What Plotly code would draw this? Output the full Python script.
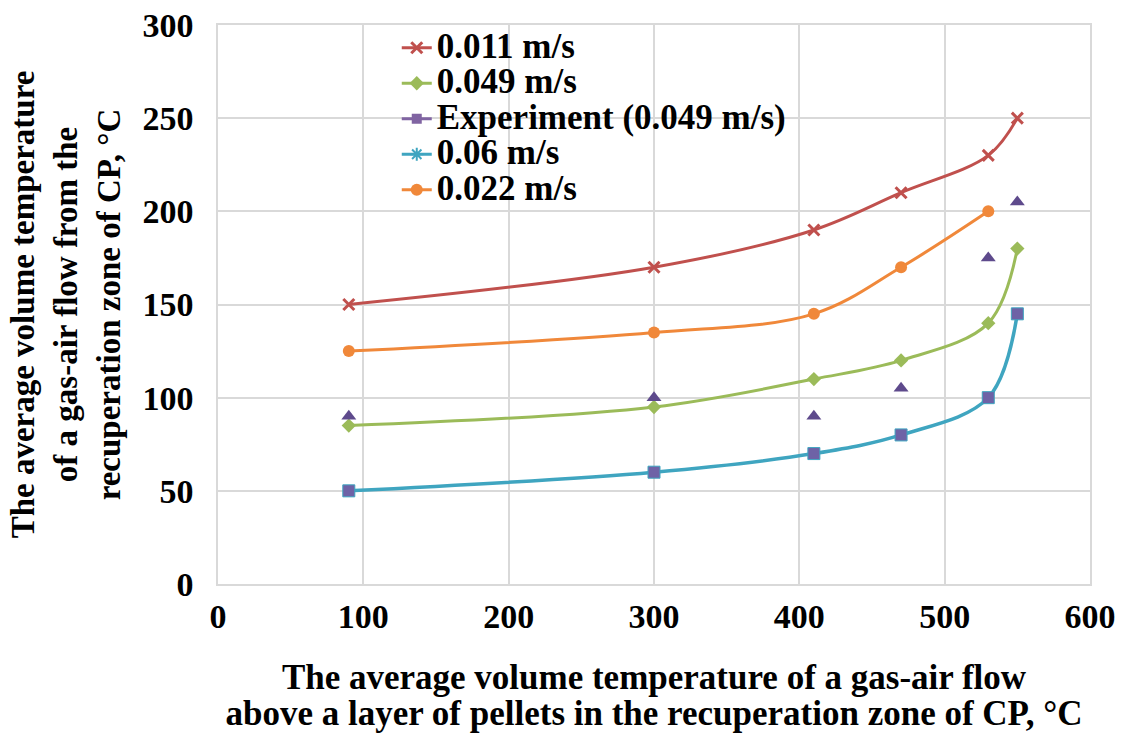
import plotly.graph_objects as go

# Data
x_main = [90, 300, 410, 470, 530, 550]
x_orange = [90, 300, 410, 470, 530]
v_0011 = [150, 170, 190, 210, 230, 250]
v_0049 = [85, 95, 110, 120, 140, 180]
v_exp = [90, 100, 90, 105, 175, 205]
v_006 = [50, 60, 70, 80, 100, 145]
v_0022 = [125, 135, 145, 170, 200]

names = ["0.011 m/s", "0.049 m/s", "Experiment (0.049 m/s)", "0.06 m/s", "0.022 m/s"]
x_title_lines = ["The average volume temperature of a gas-air flow",
                 "above a layer of pellets in the recuperation zone of CP, °C"]
y_title_lines = ["The average volume temperature", "of a gas-air flow from the",
                 "recuperation zone of CP, °C"]

RED = "#C0504D"
GREEN = "#9BBB59"
PURPLE = "#8064A2"
PURPLE_DARK = "#5E4A8C"
TEAL = "#3FA5C0"
ORANGE = "#F0883A"

FONT = "Liberation Serif"

def big(s, px):
    return "<span style='font-size:%dpx'>%s</span>" % (px, s)

def lname(s):
    return big(s, 35)

fig = go.Figure()

# 0.011 m/s
fig.add_trace(go.Scatter(
    x=x_main, y=v_0011, name=lname(names[0]), mode="lines+markers",
    line=dict(color=RED, width=3, shape="spline"),
    marker=dict(symbol="x-thin-open", size=11, line=dict(color=RED, width=3), color=RED)))
# 0.049 m/s
fig.add_trace(go.Scatter(
    x=x_main, y=v_0049, name=lname(names[1]), mode="lines+markers",
    line=dict(color=GREEN, width=3, shape="spline"),
    marker=dict(symbol="diamond", size=11, color=GREEN)))
# Experiment legend entry
fig.add_trace(go.Scatter(
    x=[None], y=[None], name=lname(names[2]), mode="lines+markers",
    line=dict(color=PURPLE, width=3),
    marker=dict(symbol="square", size=10, color=PURPLE)))
# 0.06 legend entry
fig.add_trace(go.Scatter(
    x=[None], y=[None], name=lname(names[3]), mode="lines+markers",
    line=dict(color=TEAL, width=3),
    marker=dict(symbol="asterisk-open", size=11, line=dict(color=TEAL, width=2))))
# 0.022 m/s
fig.add_trace(go.Scatter(
    x=x_orange, y=v_0022, name=lname(names[4]), mode="lines+markers",
    line=dict(color=ORANGE, width=3, shape="spline"),
    marker=dict(symbol="circle", size=12, color=ORANGE)))
# 0.06 m/s data
fig.add_trace(go.Scatter(
    x=x_main, y=v_006, name=names[3], mode="lines+markers", showlegend=False,
    line=dict(color=TEAL, width=3.5, shape="spline"),
    marker=dict(symbol="square", size=12, color="#6E62A6", line=dict(color=TEAL, width=1))))
# Experiment data
fig.add_trace(go.Scatter(
    x=x_main, y=v_exp, name=names[2], mode="markers", showlegend=False,
    marker=dict(symbol="triangle-up", size=13, color=PURPLE_DARK)))

axis_common = dict(
    showgrid=True, gridcolor="#D9D9D9", gridwidth=1.5,
    showline=True, linecolor="#D9D9D9", linewidth=1.5, mirror=True,
    zeroline=False, ticks="", automargin=False,
    tickfont=dict(family=FONT, size=34, color="black", weight="bold"),
)

fig.update_layout(
    width=1125, height=733,
    margin=dict(l=218, r=35, t=25, b=149),
    paper_bgcolor="white", plot_bgcolor="white",
    font=dict(family=FONT, color="black"),
    xaxis=dict(range=[0, 600], dtick=100, tick0=0, ticklabelstandoff=1,
               title=dict(text="<br>".join(big(t, 35) for t in x_title_lines),
                          font=dict(family=FONT, size=28, color="black", weight="bold"), standoff=37),
               **axis_common),
    yaxis=dict(range=[0, 300], dtick=50, tick0=0, ticklabelstandoff=16,
               title=dict(text="<br>".join(y_title_lines),
                          font=dict(family=FONT, size=33, color="black", weight="bold"), standoff=12),
               **axis_common),
    legend=dict(x=0.205, y=1.0, xanchor="left", yanchor="top",
                bgcolor="rgba(255,255,255,0)",
                font=dict(family=FONT, size=25, color="black", weight="bold"),
                itemwidth=30, tracegroupgap=0),
    showlegend=True,
)

fig.write_html("out.html")
